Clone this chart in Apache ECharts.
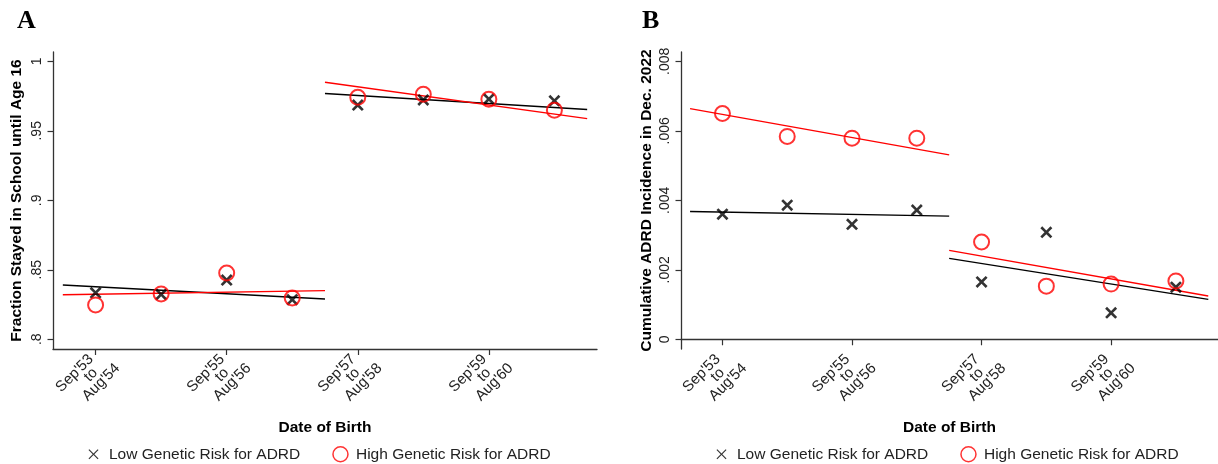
<!DOCTYPE html>
<html>
<head>
<meta charset="utf-8">
<script src="https://cdn.jsdelivr.net/npm/echarts@6/dist/echarts.min.js"></script>
<style>
  html, body { margin: 0; padding: 0; background: #fff; }
  #chart { width: 1218px; height: 464px; }
</style>
</head>
<body>
<div id="chart"></div>
<script>
// cohorts are numbered 1..8, only every other one gets a label
const cohortTicks = [1, 3, 5, 7]
const cohortLabels = [
  ["Sep'53", 'to', "Aug'54"],
  ["Sep'55", 'to', "Aug'56"],
  ["Sep'57", 'to', "Aug'58"],
  ["Sep'59", 'to', "Aug'60"],
]
const cohorts = [1, 2, 3, 4, 5, 6, 7, 8]

// panel A - fraction stayed in school until age 16
const schoolLow = [0.8334, 0.8323, 0.8426, 0.8285, 0.9685, 0.9722, 0.9728, 0.9716]
const schoolHigh = [0.8247, 0.8326, 0.8477, 0.8297, 0.9741, 0.9763, 0.9727, 0.9648]
const schoolFitLow = [[[0.5, 0.8390], [4.5, 0.8290]], [[4.5, 0.9768], [8.5, 0.9653]]]
const schoolFitHigh = [[[0.5, 0.8320], [4.5, 0.8350]], [[4.5, 0.9849], [8.5, 0.9588]]]
const schoolTicks = [0.8, 0.85, 0.9, 0.95, 1]

// panel B - cumulative ADRD incidence in Dec. 2022
const adrdLow = [0.0036, 0.00386, 0.00331, 0.00372, 0.00165, 0.00308, 0.00076, 0.0015]
const adrdHigh = [0.0065, 0.00584, 0.00579, 0.00579, 0.0028, 0.00153, 0.00159, 0.00168]
const adrdFitLow = [[[0.5, 0.00368], [4.5, 0.003545]], [[4.5, 0.00233], [8.5, 0.00115]]]
const adrdFitHigh = [[[0.5, 0.00664], [4.5, 0.00531]], [[4.5, 0.00256], [8.5, 0.001246]]]
const adrdTicks = [0, 0.002, 0.004, 0.006, 0.008]

const LOW = 'Low Genetic Risk for ADRD'
const HIGH = 'High Genetic Risk for ADRD'
const FONT = "'Liberation Sans', Arial, Helvetica, sans-serif"
const CROSS = 'path://M0,1.56 L1.56,0 L5,3.44 L8.44,0 L10,1.56 L6.56,5 L10,8.44 L8.44,10 L5,6.56 L1.56,10 L0,8.44 L3.44,5 Z'
// thinner cross for the legend, with two tiny specks to pad the box
const CROSS_THIN = 'path://M-2.5,-2.5 L-2.49,-2.5 L-2.5,-2.49 Z M12.5,12.5 L12.49,12.5 L12.5,12.49 Z ' +
  'M0,0.8 L0.8,0 L5,4.2 L9.2,0 L10,0.8 L5.8,5 L10,9.2 L9.2,10 L5,5.8 L0.8,10 L0,9.2 L4.2,5 Z'

function stripZero(v) {
  return String(v).replace(/^0\./, '.')
}

function xAxisOf(gridIndex, min, max) {
  return {
    type: 'value',
    gridIndex: gridIndex,
    min: min,
    max: max,
    name: 'Date of Birth',
    nameLocation: 'middle',
    nameGap: 62,
    nameTextStyle: { fontFamily: FONT, fontWeight: 'bold', fontSize: 15.5, color: '#000' },
    splitLine: { show: false },
    axisLine: { lineStyle: { color: '#333', width: 1.3 } },
    axisTick: { customValues: cohortTicks, length: 6, lineStyle: { color: '#333', width: 1.2 } },
    axisLabel: {
      customValues: cohortTicks,
      rotate: 45,
      margin: -5,
      padding: [37, 0, 0, 0],
      color: '#222',
      fontFamily: FONT,
      fontSize: 15,
      lineHeight: 12.5,
      formatter: function (v) {
        let l = cohortLabels[cohortTicks.indexOf(v)]
        if (!l) return ''
        return `{a|${l[0]}}\n{b|${l[1]}}\n{c|${l[2]}}`
      },
      rich: {
        a: { fontFamily: FONT, fontSize: 15, lineHeight: 12.5, color: '#222', padding: [0, 12.4, 0, 0] },
        b: { fontFamily: FONT, fontSize: 15, lineHeight: 12.5, color: '#222', padding: [0, 18.9, 0, 0] },
        c: { fontFamily: FONT, fontSize: 15, lineHeight: 12.5, color: '#222' },
      },
    },
  }
}

function yAxisOf(gridIndex, min, max, ticks, name, gap) {
  return {
    type: 'value',
    gridIndex: gridIndex,
    min: min,
    max: max,
    name: name,
    nameLocation: 'middle',
    nameRotate: 90,
    nameGap: gap,
    nameTextStyle: { fontFamily: FONT, fontWeight: 'bold', fontSize: 15.5, color: '#000' },
    splitLine: { show: false },
    axisLine: { show: true, lineStyle: { color: '#333', width: 1.3 } },
    axisTick: { customValues: ticks, length: 5.5, lineStyle: { color: '#333', width: 1.2 } },
    axisLabel: {
      customValues: ticks,
      rotate: 90,
      margin: 9,
      color: '#222',
      fontFamily: FONT,
      fontSize: 14,
      formatter: stripZero,
    },
  }
}

function panelSeries(idx, low, high, fitLow, fitHigh) {
  let list = []
  fitLow.forEach((seg) => {
    list.push({
      type: 'line', xAxisIndex: idx, yAxisIndex: idx, data: seg,
      showSymbol: false, silent: true, z: 2,
      lineStyle: { color: '#000', width: 1.4 },
    })
  })
  fitHigh.forEach((seg) => {
    list.push({
      type: 'line', xAxisIndex: idx, yAxisIndex: idx, data: seg,
      showSymbol: false, silent: true, z: 2,
      lineStyle: { color: '#f00', width: 1.4 },
    })
  })
  list.push({
    name: LOW, type: 'scatter', xAxisIndex: idx, yAxisIndex: idx, z: 3,
    symbol: CROSS, symbolSize: 12,
    itemStyle: { color: '#000' },
    data: cohorts.map((c, i) => [c, low[i]]),
  })
  list.push({
    name: HIGH, type: 'scatter', xAxisIndex: idx, yAxisIndex: idx, z: 4,
    symbol: 'circle', symbolSize: 15,
    itemStyle: { color: 'rgba(0,0,0,0)', borderColor: '#f00', borderWidth: 2 },
    data: cohorts.map((c, i) => [c, high[i]]),
  })
  return list
}

function legendOf(left) {
  return {
    left: left,
    top: 441,
    orient: 'horizontal',
    itemWidth: 15,
    itemHeight: 15,
    itemGap: 32,
    selectedMode: false,
    textStyle: { fontFamily: FONT, fontSize: 15.5, color: '#222', padding: [0, 0, 0, 3] },
    data: [
      { name: LOW, icon: CROSS_THIN, itemStyle: { color: '#000' } },
      { name: HIGH, icon: 'circle', itemStyle: { color: 'rgba(0,0,0,0)', borderColor: '#f00', borderWidth: 1.5 } },
    ],
  }
}

const chart = echarts.init(document.getElementById('chart'), null, { renderer: 'canvas' })
chart.setOption({
  backgroundColor: '#fff',
  animation: false,
  title: [
    { text: 'A', left: 12, top: 3, textStyle: { fontFamily: "'Liberation Serif', 'Times New Roman', serif", fontWeight: 'bold', fontSize: 26, color: '#000' } },
    { text: 'B', left: 637, top: 3, textStyle: { fontFamily: "'Liberation Serif', 'Times New Roman', serif", fontWeight: 'bold', fontSize: 26, color: '#000' } },
  ],
  grid: [
    { left: 53, top: 52, width: 544, height: 297 },
    { left: 681, top: 52, width: 544, height: 297 },
  ],
  xAxis: [xAxisOf(0, 0.35, 8.65), xAxisOf(1, 0.36, 8.65)],
  yAxis: [
    yAxisOf(0, 0.793, 1.0067, schoolTicks, 'Fraction Stayed in School until Age 16', 28),
    yAxisOf(1, -0.00028, 0.00827, adrdTicks, 'Cumulative ADRD Incidence in Dec. 2022', 26),
  ],
  legend: [legendOf(81), legendOf(709)],
  series: [
    ...panelSeries(0, schoolLow, schoolHigh, schoolFitLow, schoolFitHigh),
    ...panelSeries(1, adrdLow, adrdHigh, adrdFitLow, adrdFitHigh),
  ],
})
</script>
</body>
</html>
